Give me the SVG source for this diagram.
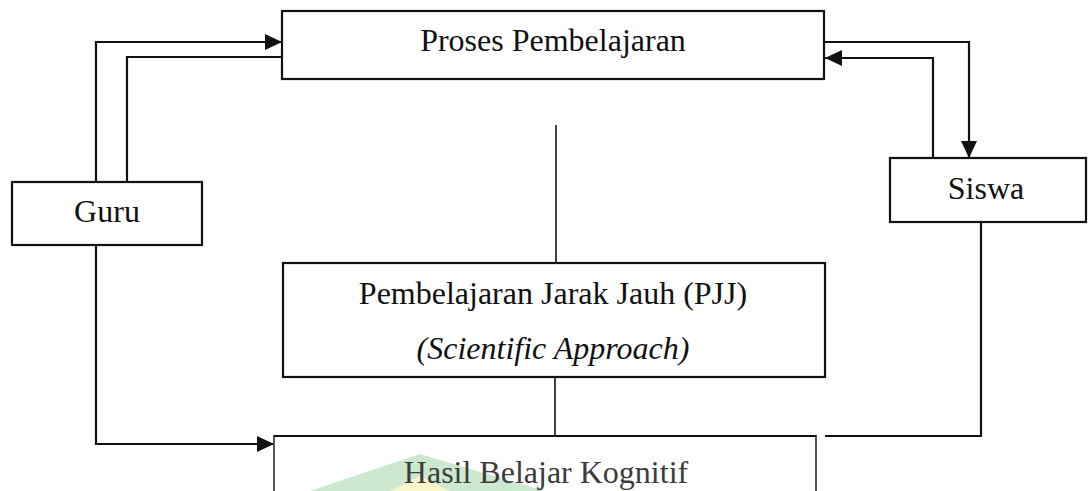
<svg xmlns="http://www.w3.org/2000/svg" width="1088" height="491" viewBox="0 0 1088 491">
<style>
.box{fill:#ffffff;stroke:#111111;stroke-width:2.2}
.lbl{font-family:"Liberation Serif","Times New Roman",serif;font-size:32px;fill:#111111;text-anchor:middle}
.ital{font-style:italic}
.con{fill:none;stroke:#111111;stroke-width:2.2}
.thin{fill:none;stroke:#111111;stroke-width:1.6}
</style>
<defs>
<marker id="arr" markerUnits="userSpaceOnUse" markerWidth="18" markerHeight="18" viewBox="0 0 18 18" refX="17" refY="9" orient="auto">
<path d="M0,1 L17,9 L0,17 Z" fill="#111111"/>
</marker>
</defs>
<rect x="0" y="0" width="1088" height="491" fill="#ffffff"/>
<g id="watermark" opacity="0.45">
<polygon points="310,491 420,454 545,491" fill="#8fcf98"/>
<polygon points="390,491 420,476 450,491" fill="#f2ec94"/>
</g>
<g id="connectors">
<path class="con" d="M96,182 V42 H282" marker-end="url(#arr)"/>
<path class="con" d="M127,182 V57 H282"/>
<path class="con" d="M824,42 H969 V158" marker-end="url(#arr)"/>
<path class="con" d="M933,158 V58 H825" marker-end="url(#arr)"/>
<path class="con" d="M96,245 V444 H274" marker-end="url(#arr)"/>
<path class="con" d="M981,222 V436 H825"/>
<path class="thin" d="M556,125 V263"/>
<path class="thin" d="M555,377 V436"/>
</g>
<g id="proses">
<rect class="box" x="282" y="11" width="542" height="68"/>
<text class="lbl" x="553" y="51">Proses Pembelajaran</text>
</g>
<g id="guru">
<rect class="box" x="12" y="182" width="190" height="63"/>
<text class="lbl" x="107" y="222">Guru</text>
</g>
<g id="siswa">
<rect class="box" x="890" y="158" width="196" height="64"/>
<text class="lbl" x="986" y="199">Siswa</text>
</g>
<g id="pjj">
<rect class="box" x="283" y="263" width="542" height="114"/>
<text class="lbl" x="553" y="304">Pembelajaran Jarak Jauh (PJJ)</text>
<text class="lbl ital" x="553" y="359">(Scientific Approach)</text>
</g>
<g id="hasil">
<rect x="274" y="436" width="542" height="80" fill="none" stroke="#555555" stroke-width="2"/>
<line x1="274" y1="436" x2="816" y2="436" stroke="#111111" stroke-width="2.2"/>
<text class="lbl" x="546" y="483" style="fill:#3c3c3c">Hasil Belajar Kognitif</text>
</g>
</svg>
